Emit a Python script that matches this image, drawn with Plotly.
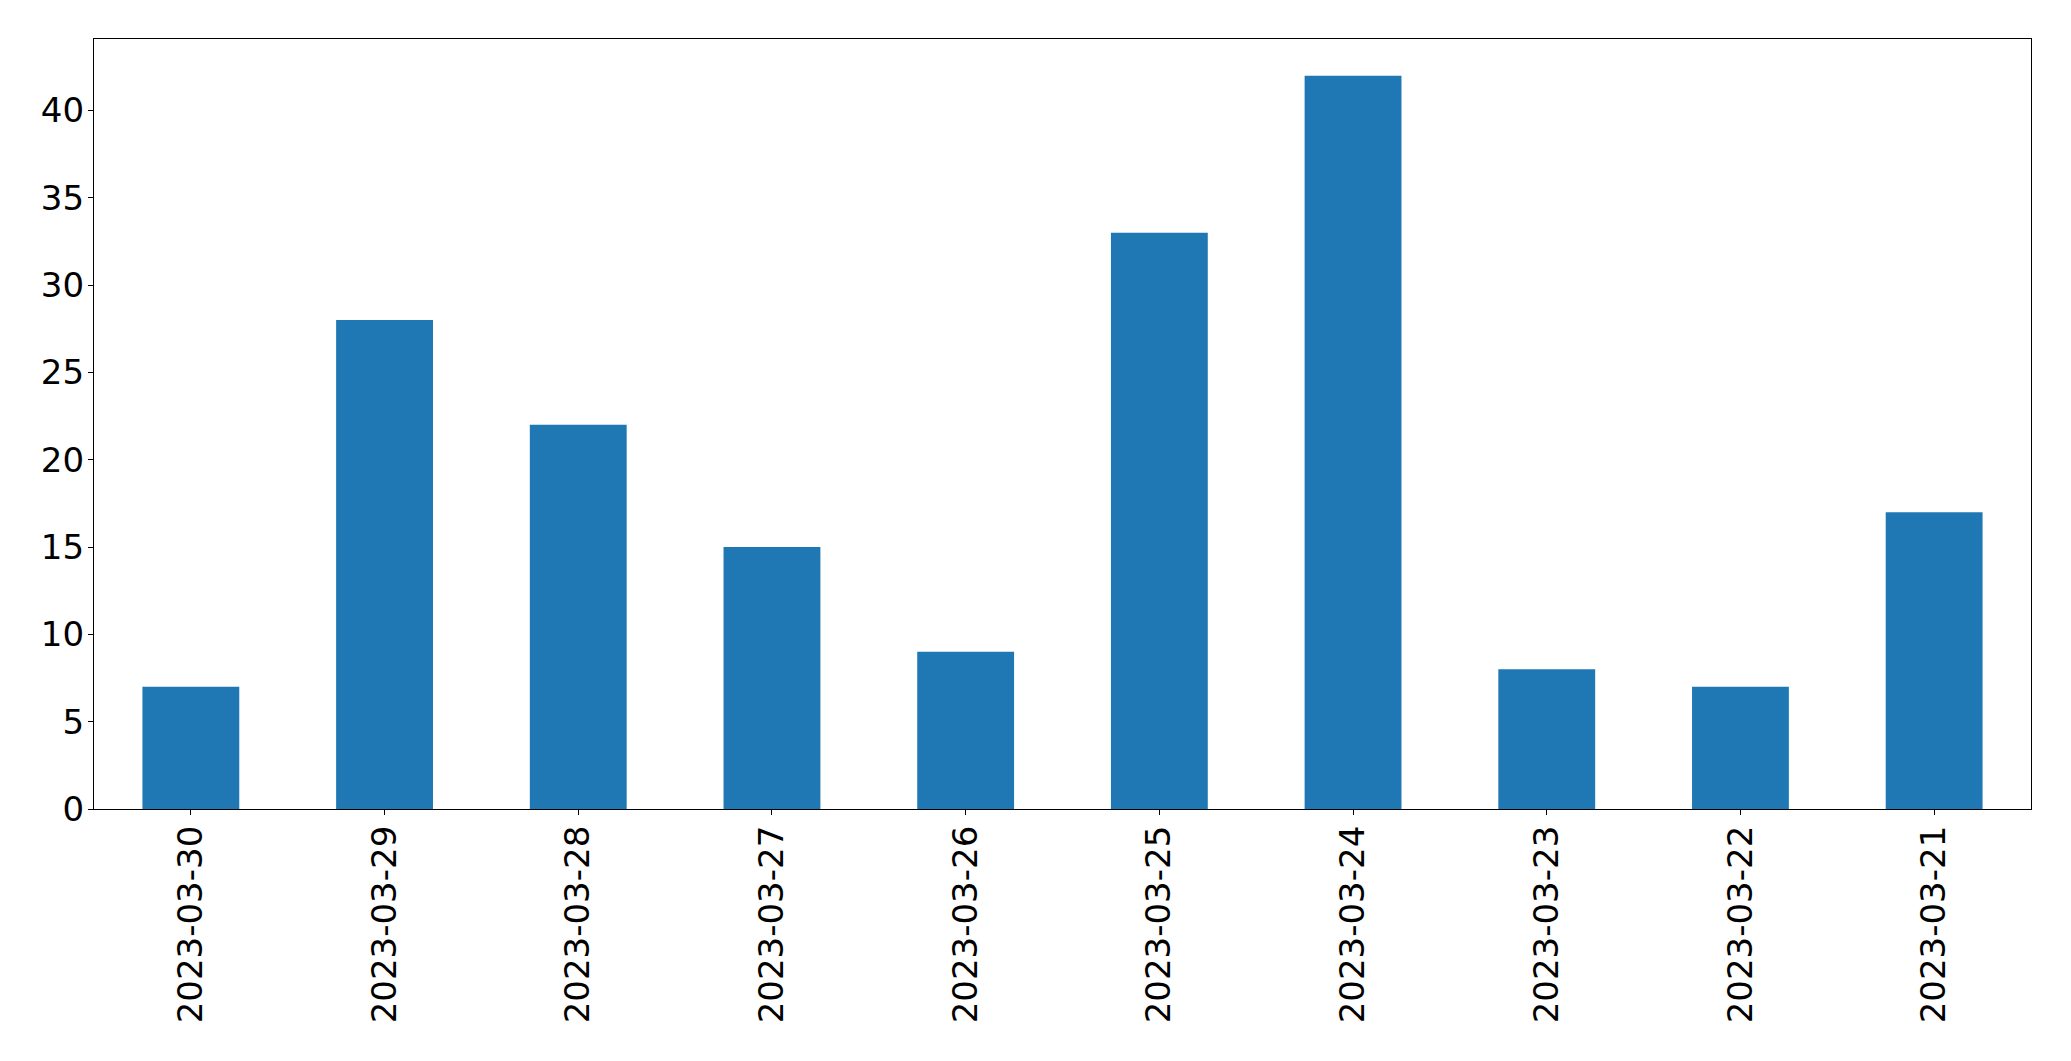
import plotly.graph_objects as go

dates = ["2023-03-30", "2023-03-29", "2023-03-28", "2023-03-27", "2023-03-26",
         "2023-03-25", "2023-03-24", "2023-03-23", "2023-03-22", "2023-03-21"]
counts = [7, 28, 22, 15, 9, 33, 42, 8, 7, 17]
y_ticks = [0, 5, 10, 15, 20, 25, 30, 35, 40]

fig = go.Figure(go.Bar(x=dates, y=counts, marker_color="#1f77b4", width=0.5,
                       marker_line_width=0))

fig.update_layout(
    width=2071, height=1061,
    margin=dict(l=94, r=40, t=39, b=252, pad=0),
    plot_bgcolor="white", paper_bgcolor="white",
    font=dict(family="DejaVu Sans", size=34, color="black"),
    showlegend=False,
)
fig.update_xaxes(type="category", range=[-0.5, 9.5], tickangle=-90,
                 showline=True, linecolor="black", linewidth=1.3, mirror=True,
                 ticks="outside", ticklen=5, tickwidth=1.3, tickcolor="black",
                 ticklabelstandoff=-3,
                 showgrid=False, zeroline=False)
fig.update_yaxes(range=[0, 44.1], tickvals=y_ticks,
                 showline=True, linecolor="black", linewidth=1.3, mirror=True,
                 ticks="outside", ticklen=5, tickwidth=1.3, tickcolor="black",
                 ticklabelstandoff=-3,
                 showgrid=False, zeroline=False)

fig.write_html("out.html")
